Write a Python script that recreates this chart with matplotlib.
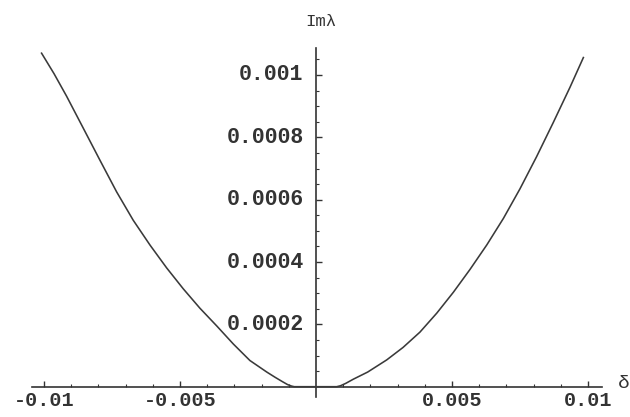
import matplotlib

matplotlib.use("Agg")
import matplotlib.pyplot as plt
import numpy as np
from matplotlib.ticker import FixedLocator

# Im(lambda) versus detuning delta
delta = [
    -0.01009, -0.00963, -0.00917, -0.00856, -0.00794, -0.00733, -0.00672,
    -0.00610, -0.00549, -0.00488, -0.00427, -0.00365, -0.00304, -0.00243,
    -0.00181, -0.00150, -0.00125, -0.00105, -0.00090, -0.00080, 0.0,
    0.00076, 0.00090, 0.00110, 0.00137, 0.00160, 0.00190, 0.00260, 0.00320,
    0.00382, 0.00444, 0.00505, 0.00566, 0.00628, 0.00689, 0.00750, 0.00811,
    0.00872, 0.00934, 0.00983,
]
im_lambda = [
    0.001070, 0.001004, 0.000932, 0.000830, 0.000726, 0.000625, 0.000534,
    0.000454, 0.000381, 0.000314, 0.000252, 0.000195, 0.000137, 0.000084,
    0.000047, 0.000030, 0.000017, 0.000007, 0.000002, 0.0, 0.0,
    0.0, 0.000003, 0.000011, 0.000024, 0.000034, 0.000047, 0.000086, 0.000126,
    0.000175, 0.000236, 0.000303, 0.000376, 0.000455, 0.000540, 0.000635,
    0.000738, 0.000847, 0.000961, 0.001056,
]

x_major = [-0.01, -0.005, 0.005, 0.01]
x_labels = ["-0.01", "-0.005", "0.005", "0.01"]
x_minor = [i / 1000 for i in range(-10, 11) if i % 5 != 0]
y_major = [0.0002, 0.0004, 0.0006, 0.0008, 0.001]
y_labels = ["0.0002", "0.0004", "0.0006", "0.0008", "0.001"]
y_minor = [i * 0.00005 for i in range(1, 22) if i % 4 != 0]

INK = "#333333"
FONT = "Liberation Mono"

fig = plt.figure(figsize=(6.3, 4.17), dpi=100)
ax = fig.add_axes([0, 0, 1, 1])
ax.set_facecolor("white")

ax.plot(delta, im_lambda, color="#3a3a3a", linewidth=1.15,
        solid_joinstyle="round", zorder=3)

ax.set_xlim(-0.011618, 0.011544)
ax.set_ylim(-0.0000972, 0.0012406)

# axes cross at the origin, Mathematica style
for side in ("top", "right"):
    ax.spines[side].set_visible(False)
ax.spines["left"].set_position(("data", 0))
ax.spines["bottom"].set_position(("data", 0))
ax.spines["bottom"].set_bounds(-0.01045, 0.0105)
ax.spines["left"].set_bounds(-0.000033, 0.001087)
for side in ("left", "bottom"):
    ax.spines[side].set_color(INK)
    ax.spines[side].set_linewidth(1.2)

ax.xaxis.set_major_locator(FixedLocator(x_major))
ax.set_xticklabels(x_labels)
ax.xaxis.set_minor_locator(FixedLocator(x_minor))
ax.yaxis.set_major_locator(FixedLocator(y_major))
ax.set_yticklabels(y_labels)
ax.yaxis.set_minor_locator(FixedLocator(y_minor))

ax.tick_params(axis="both", which="both", direction="in", colors=INK)
ax.tick_params(axis="both", which="major", length=4, width=1.0)
ax.tick_params(axis="both", which="minor", length=2, width=0.8)
ax.tick_params(axis="x", which="major", pad=3)
ax.tick_params(axis="y", which="major", pad=9)

for lab in ax.get_xticklabels():
    lab.set_fontfamily(FONT)
    lab.set_fontweight("bold")
    lab.set_fontsize(14.5)
    lab.set_color(INK)
for lab in ax.get_yticklabels():
    lab.set_fontfamily(FONT)
    lab.set_fontweight("bold")
    lab.set_fontsize(15.5)
    lab.set_color(INK)
    lab.set_verticalalignment("center")

fig.text(321 / 630, 1 - 22 / 417, "Imλ", family=FONT, fontsize=12.5,
         color=INK, ha="center", va="center")
fig.text(624 / 630, 1 - 384 / 417, "δ", family=FONT, fontsize=14,
         color=INK, ha="center", va="center")

fig.savefig("out.png", dpi=100, facecolor="white")
